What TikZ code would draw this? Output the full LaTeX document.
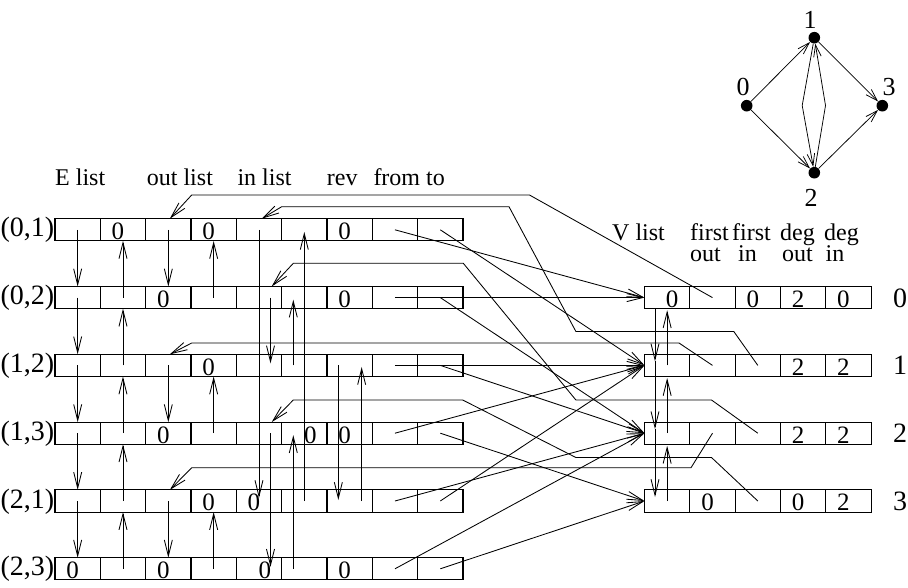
\documentclass[tikz,border=0pt]{standalone}
\usepackage{fontspec}
\setmainfont{Liberation Serif}
\usetikzlibrary{arrows.meta,calc}
\newcommand\putdig[3]{\node[num] (#1t) at ($(#1.south)+(#2,-1.2)$) {#3};}
\begin{document}
\begin{tikzpicture}[x=1pt,y=-1pt,
  cell/.style={draw, line width=1.1pt, minimum width=45.33pt, minimum height=22.2pt, inner sep=0pt, outer sep=0pt},
  ptr/.style={line width=0.85pt, -{Straight Barb[length=16pt,width=8pt]}},
  num/.style={font=\fontsize{25}{25}\selectfont, inner sep=0pt, anchor=base},
  hdr/.style={font=\fontsize{24}{24}\selectfont, inner sep=0pt, anchor=base west},
  lab/.style={font=\fontsize{28}{28}\selectfont, inner sep=0pt, anchor=base},
  glab/.style={font=\fontsize{26}{26}\selectfont, inner sep=0pt, anchor=base},
  dot/.style={circle, fill=black, minimum size=11.6pt, inner sep=0pt},
  gptr/.style={line width=0.75pt, -{Straight Barb[length=12pt,width=7.5pt]}}
]
\useasboundingbox (0,0) rectangle (908,587);
% ---------- E list cells
\foreach \ra in {0,...,5}{
  \foreach \ca in {0,...,8}{
    \node[cell] (e\ra c\ca) at ({55+45.33*(\ca+0.5)},{229.8+67.8*\ra}) {};
  }
}
% ---------- V list cells
\foreach \ra in {0,...,3}{
  \foreach \ca in {0,...,4}{
    \node[cell] (v\ra c\ca) at ({644.5+45.33*(\ca+0.5)},{229.8+67.8*(\ra+1)}) {};
  }
}
% ---------- headers
\node[hdr] (hE) at (55,185) {E list};
\node[hdr] (hO) at (146.7,185) {out list};
\node[hdr] (hI) at (237.3,185) {in list};
\node[hdr] (hR) at (326.7,185) {rev};
\node[hdr] (hF) at (373.3,185) {from to};
\node[hdr] (hV) at (612,240) {V list};
\node[hdr] (hfoa) at (690,240) {first};
\node[hdr] (hfob) at (690,261.7) {out};
\node[hdr] (hfia) at (732,240) {first};
\node[hdr] (hfib) at (738,261.7) {in};
\node[hdr] (hdoa) at (780,240) {deg};
\node[hdr] (hdob) at (782,261.7) {out};
\node[hdr] (hdia) at (824,240) {deg};
\node[hdr] (hdib) at (825.5,261.7) {in};
% ---------- row labels
\node[lab] (r0) at (27.5,236.8) {(0,1)};
\node[lab] (r1) at (27.5,304.6) {(0,2)};
\node[lab] (r2) at (27.5,372.4) {(1,2)};
\node[lab] (r3) at (27.5,440.2) {(1,3)};
\node[lab] (r4) at (27.5,508.0) {(2,1)};
\node[lab] (r5) at (27.5,575.8) {(2,3)};
\node[lab] (w0) at (900,307.1) {0};
\node[lab] (w1) at (900,374.9) {1};
\node[lab] (w2) at (900,442.7) {2};
\node[lab] (w3) at (900,510.5) {3};
% ---------- digits in E cells
\putdig{e0c1}{-5}{0}
\putdig{e0c3}{-5}{0}
\putdig{e0c6}{-5}{0}
\putdig{e1c2}{-5}{0}
\putdig{e1c6}{-5}{0}
\putdig{e2c3}{-5}{0}
\putdig{e3c2}{-5}{0}
\putdig{e3c5}{6}{0}
\putdig{e3c6}{-5}{0}
\putdig{e4c3}{-5}{0}
\putdig{e4c4}{-5}{0}
\putdig{e5c0}{-5}{0}
\putdig{e5c2}{-5}{0}
\putdig{e5c4}{6}{0}
\putdig{e5c6}{-5}{0}
% ---------- digits in V cells
\putdig{v0c0}{5}{0}
\putdig{v0c2}{-5}{0}
\putdig{v0c3}{-5}{2}
\putdig{v0c4}{-5}{0}
\putdig{v1c3}{-5}{2}
\putdig{v1c4}{-5}{2}
\putdig{v2c3}{-5}{2}
\putdig{v2c4}{-5}{2}
\putdig{v3c1}{-5}{0}
\putdig{v3c3}{-5}{0}
\putdig{v3c4}{-5}{2}
% ---------- E list next / prev
\foreach \ra/\sa in {0/1,1/2,2/3,3/4,4/5}{
  \draw[ptr] (e\ra c0.center) -- (e\sa c0.north);
  \draw[ptr] (e\sa c1.center) -- (e\ra c1.south);
}
% ---------- out list next / prev
\foreach \ra/\sa in {0/1,2/3,4/5}{
  \draw[ptr] (e\ra c2.center) -- (e\sa c2.north);
  \draw[ptr] (e\sa c3.center) -- (e\ra c3.south);
}
% ---------- in list
\draw[ptr] (e0c4.center) -- ($(e4c4.center)+(0,-3)$);
\draw[ptr] (e4c5.center) -- ($(e0c5.center)+(0,2)$);
\draw[ptr] ($(e1c4.center)+(11.5,0)$) -- ($(e2c4.center)+(11.5,-2)$);
\draw[ptr] ($(e2c5.center)+(-11,0)$) -- ($(e1c5.center)+(-11,2)$);
\draw[ptr] ($(e3c4.center)+(11.5,0)$) -- ($(e5c4.center)+(11.5,-2)$);
\draw[ptr] ($(e5c5.center)+(-11,0)$) -- ($(e3c5.center)+(-11,2)$);
% ---------- rev
\draw[ptr] ($(e2c6.center)+(-11.3,0)$) -- ($(e4c6.center)+(-11.3,-1)$);
\draw[ptr] ($(e4c6.center)+(12,0)$) -- ($(e2c6.center)+(12,1.5)$);
% ---------- from / to
\draw[ptr] (e0c7.center) -- (v0c0.west);
\draw[ptr] (e0c8.center) -- (v1c0.west);
\draw[ptr] (e1c7.center) -- (v0c0.west);
\draw[ptr] (e1c8.center) -- (v2c0.west);
\draw[ptr] (e2c7.center) -- (v1c0.west);
\draw[ptr] (e2c8.center) -- (v2c0.west);
\draw[ptr] (e3c7.center) -- (v1c0.west);
\draw[ptr] (e3c8.center) -- (v3c0.west);
\draw[ptr] (e4c7.center) -- (v2c0.west);
\draw[ptr] (e4c8.center) -- (v1c0.west);
\draw[ptr] (e5c7.center) -- (v2c0.west);
\draw[ptr] (e5c8.center) -- (v3c0.west);
% ---------- V list next / prev
\draw[ptr] ($(v0c0.south west)+(10.5,0)$) -- ($(v1c0.west)+(10.5,-4)$);
\draw[ptr] ($(v1c0.west)+(10.5,-4)$) -- ($(v2c0.west)+(10.5,-4)$);
\draw[ptr] ($(v2c0.west)+(10.5,-4)$) -- ($(v3c0.west)+(10.5,-4)$);
\draw[ptr] (v1c0.center) -- ($(v0c0.south)+(0,1.5)$);
\draw[ptr] (v2c0.center) -- ($(v1c0.south)+(0,1.5)$);
\draw[ptr] (v3c0.center) -- ($(v2c0.south)+(0,1.5)$);
% ---------- first out / first in
\draw[ptr] (v0c1.center) -- (529.5,195) -- (191.7,195) -- ($(e0c2.north)+(1.5,0)$);
\draw[ptr] (v1c1.center) -- (679,343) -- (191.7,343) -- ($(e2c2.north)+(1.5,0)$);
\draw[ptr] (v2c1.center) -- (691,467.7) -- (191.7,467.7) -- ($(e4c2.north)+(1.5,0)$);
\draw[ptr] (v1c2.center) -- (733.8,331.5) -- (575.9,331.5) -- (509,206.7) -- (281.7,206.7) -- ($(e0c4.north)+(2.7,0)$);
\draw[ptr] (v2c2.center) -- (711.5,400) -- (575.9,400) -- (463.3,263.3) -- (293.3,263.3) -- ($(e1c4.north)+(12.7,0)$);
\draw[ptr] (v3c2.center) -- (711.5,457.5) -- (575.9,457.5) -- (462.7,400) -- (293.3,400) -- ($(e3c4.north)+(12.7,0)$);
% ---------- graph
\node[dot] (g0) at (746.7,105.7) {};
\node[dot] (g1) at (814.3,37.7) {};
\node[dot] (g2) at (814.3,172.7) {};
\node[dot] (g3) at (882.3,105.7) {};
\node[glab] (gl0) at (743,95) {0};
\node[glab] (gl1) at (810,28.3) {1};
\node[glab] (gl2) at (811,206.5) {2};
\node[glab] (gl3) at (889,95) {3};
\coordinate (gL) at (802.2,105.5);
\coordinate (gR) at (825.5,105.5);
\draw[gptr] (g0) -- (g1);
\draw[gptr] (g0) -- (g2);
\draw[gptr] (g1) -- (g3);
\draw[gptr] (g2) -- (g3);
\draw[gptr] (g1) -- (gL) -- (g2);
\draw[gptr] (g2) -- (gR) -- (g1);
\end{tikzpicture}
\end{document}
